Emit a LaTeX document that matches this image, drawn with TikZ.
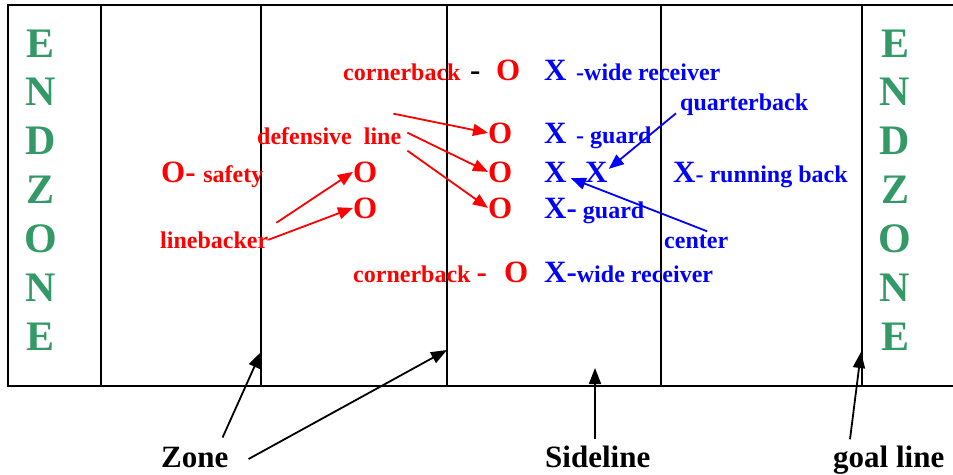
\documentclass[tikz,border=0pt]{standalone}
\usepackage{fontspec}
\setmainfont{Liberation Serif}
\usetikzlibrary{arrows.meta,calc}
\definecolor{FieldGreen}{HTML}{339966}
\definecolor{DefRed}{HTML}{FF0000}
\definecolor{OffBlue}{HTML}{0000FF}
\newcommand{\plsize}{\fontsize{31}{34}\selectfont}
\newcommand{\lblsize}{\fontsize{24}{27}\selectfont}

\begin{document}
\begin{tikzpicture}[x=1pt,y=-1pt,
    every node/.style={inner sep=0pt},
    endz/.style={FieldGreen,anchor=base,font=\fontsize{42}{46}\selectfont\bfseries},
    player/.style={anchor=base west,font=\plsize\bfseries},
    lbl/.style={anchor=base west,font=\lblsize\bfseries},
    note/.style={anchor=base west,font=\plsize\bfseries},
    fieldline/.style={line width=2pt,black},
    redarr/.style={DefRed,line width=1.8pt,-{Triangle[length=15pt,width=12pt]}},
    bluearr/.style={OffBlue,line width=1.8pt,-{Triangle[length=15pt,width=12pt]}},
    blackarr/.style={black,line width=1.8pt,-{Triangle[length=16pt,width=12pt]}}]
    \useasboundingbox (0,0) rectangle (953,474);
    \clip (0,0) rectangle (953,474);
    \draw[fieldline] (8,5) rectangle (970,386);
    \foreach \x in {101,261,447,661,862}{
      \draw[fieldline] (\x,5) -- (\x,386);}
    \foreach \ch [count=\i from 0] in {E,N,D,Z,O,N,E}{
      \node[endz] (endl\i) at (41,57+48.9*\i) {\ch};
      \node[endz] (endr\i) at (895,57+48.9*\i) {\ch};}

    \node[lbl,DefRed] (cbtop) at (343,80) {cornerback};
    \node[player] (dashtop) at (470,80) {-};
    \node[player,DefRed] (otop) at (496,80) {O};
    \node[player,OffBlue] (xtop) at (544,80) {X};
    \node[lbl,OffBlue] (wrtop) at (576,80) {-wide receiver};
    \node[lbl,OffBlue] (qb) at (680,110) {quarterback};
    \node[lbl,DefRed] (defl) at (257,144) {defensive\ \ line};
    \node[player,DefRed] (dl1) at (488,143) {O};
    \node[player,OffBlue] (xg1) at (544,143) {X};
    \node[lbl,OffBlue] (grd1) at (576,143) {- guard};
    \node[player,DefRed] (safe) at (161,182) {O- {\lblsize safety}};
    \node[player,DefRed] (lb1) at (353,182) {O};
    \node[player,DefRed] (dl2) at (488,182) {O};
    \node[player,OffBlue] (xc) at (544,182) {X};
    \node[player,OffBlue] (xqb) at (585,182) {X};
    \node[player,OffBlue] (rb) at (673,182) {X{\lblsize - running back}};
    \node[player,DefRed] (lb2) at (353,218) {O};
    \node[player,DefRed] (dl3) at (488,218) {O};
    \node[player,OffBlue] (grd2) at (544,218) {X-{\lblsize\ guard}};
    \node[lbl,DefRed] (lbk) at (160,248) {linebacker};
    \node[lbl,OffBlue] (ctr) at (664,248) {center};
    \node[lbl,DefRed] (cbbot) at (353,282) {cornerback {\plsize -}};
    \node[player,DefRed] (obot) at (504,282) {O};
    \node[player,OffBlue] (wrbot) at (544,282) {X-{\lblsize wide receiver}};

    \node[note] (zone) at (161,467) {Zone};
    \node[note] (side) at (545,467) {Sideline};
    \node[note] (goal) at (833,467) {goal line};
    \coordinate (zl1) at (261,352);
    \coordinate (zl2) at (447,350);
    \coordinate (sl) at (595,368);
    \coordinate (gl) at (861,352);

    \draw[redarr] ($(defl.east)+(-8,-22)$) -- (dl1.west);
    \draw[redarr] ($(defl.east)+(6,-3)$) -- (dl2.west);
    \draw[redarr] ($(defl.east)+(6,15)$) -- (dl3.west);
    \draw[redarr] ($(lbk.east)+(8,-17)$) -- (lb1.west);
    \draw[redarr] (lbk.east) -- (lb2.west);
    \draw[bluearr] ($(qb.south west)+(-4,-2)$) -- ($(xqb.east)+(1,-3)$);
    \draw[bluearr] ($(ctr.north)+(11,-3)$) -- ($(xc.south east)+(4,-4)$);
    \draw[blackarr] ($(zone.north east)+(-6,-9)$) -- (zl1);
    \draw[blackarr] ($(zone.east)+(20,2)$) -- (zl2);
    \draw[blackarr] ($(sl |- side.north)+(0,-6)$) -- (sl);
    \draw[blackarr] ($(goal.north west)+(17,-6)$) -- (gl);
\end{tikzpicture}
\end{document}
